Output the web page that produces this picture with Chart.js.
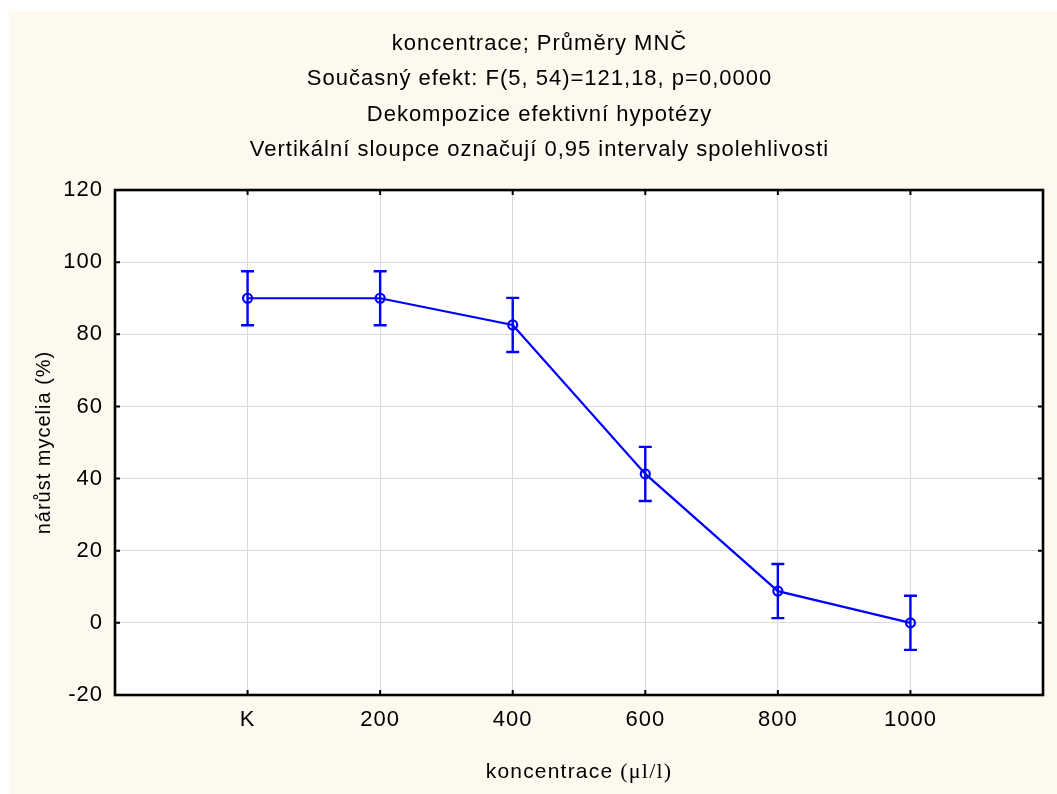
<!DOCTYPE html>
<html>
<head>
<meta charset="utf-8">
<script src="https://cdn.jsdelivr.net/npm/chart.js@4"></script>
<style>
  html, body { margin: 0; padding: 0; background: #fff; }
</style>
</head>
<body>
<canvas id="chart" width="1057" height="794"></canvas>
<script>
const categories = ['K', '200', '400', '600', '800', '1000'];
const means = [90.0, 90.0, 82.6, 41.3, 8.8, 0.0];
const ci95 = [7.5, 7.5, 7.5, 7.5, 7.5, 7.5]; // polovina 0,95 intervalu
const yTicks = [-20, 0, 20, 40, 60, 80, 100, 120];
const titleLines = [
  'koncentrace; Průměry MNČ',
  'Současný efekt: F(5, 54)=121,18, p=0,0000',
  'Dekompozice efektivní hypotézy',
  'Vertikální sloupce označují 0,95 intervaly spolehlivosti'
];
const yTitle = 'nárůst mycelia (%)';
const xTitle = ['koncentrace ', '(μl/l)'];

const sans = '"Liberation Sans", Arial, sans-serif';
const serif = '"Liberation Serif", "Times New Roman", serif';
const blue = '#0000ff';
const gridColor = '#dadada';

Chart.defaults.font.family = sans;
Chart.defaults.color = '#000';

const statPlot = {
  id: 'statPlot',
  beforeDraw(chart) {
    const { ctx, chartArea: a } = chart;
    ctx.letterSpacing = '1px';
    ctx.save();
    ctx.fillStyle = '#fff';
    ctx.fillRect(0, 0, chart.width, chart.height);
    ctx.fillStyle = '#fdf9ef';
    ctx.fillRect(9, 11, chart.width - 9, chart.height - 11);
    ctx.fillStyle = '#fff';
    ctx.fillRect(a.left, a.top, a.width, a.height);
    ctx.restore();
  },
  afterDatasetsDraw(chart) {
    // chybové úsečky (interval spolehlivosti)
    const { ctx, scales: { x, y } } = chart;
    ctx.save();
    ctx.strokeStyle = blue;
    ctx.lineWidth = 2.4;
    means.forEach((m, i) => {
      const px = x.getPixelForValue(i + 1);
      const hi = y.getPixelForValue(m + ci95[i]);
      const lo = y.getPixelForValue(m - ci95[i]);
      ctx.beginPath();
      ctx.moveTo(px, hi); ctx.lineTo(px, lo);
      ctx.moveTo(px - 6.5, hi); ctx.lineTo(px + 6.5, hi);
      ctx.moveTo(px - 6.5, lo); ctx.lineTo(px + 6.5, lo);
      ctx.stroke();
    });
    ctx.restore();
  },
  afterDraw(chart) {
    const { ctx, chartArea: a, scales: { x, y } } = chart;
    ctx.save();
    // rámeček a dovnitř orientované značky
    ctx.strokeStyle = '#000';
    ctx.lineWidth = 2.6;
    ctx.strokeRect(a.left, a.top, a.width, a.height);
    ctx.lineWidth = 2;
    ctx.beginPath();
    y.ticks.forEach(t => {
      const py = y.getPixelForValue(t.value);
      ctx.moveTo(a.left, py); ctx.lineTo(a.left + 5, py);
      ctx.moveTo(a.right, py); ctx.lineTo(a.right - 5, py);
    });
    x.ticks.forEach(t => {
      const px = x.getPixelForValue(t.value);
      ctx.moveTo(px, a.bottom); ctx.lineTo(px, a.bottom - 5);
      ctx.moveTo(px, a.top); ctx.lineTo(px, a.top + 5);
    });
    ctx.stroke();

    // popis osy x: jednotka je psána patkovým písmem
    ctx.fillStyle = '#000';
    ctx.textBaseline = 'alphabetic';
    ctx.textAlign = 'left';
    ctx.letterSpacing = '1.2px';
    ctx.font = '21px ' + sans;
    const w1 = ctx.measureText(xTitle[0]).width;
    ctx.font = '22px ' + serif;
    const w2 = ctx.measureText(xTitle[1]).width;
    const tx = (a.left + a.right) / 2 - (w1 + w2) / 2;
    ctx.font = '21px ' + sans;
    ctx.fillText(xTitle[0], tx, 778);
    ctx.font = '22px ' + serif;
    ctx.fillText(xTitle[1], tx + w1, 778);
    ctx.restore();
  }
};

new Chart(document.getElementById('chart'), {
  type: 'line',
  data: {
    datasets: [{
      data: means.map((m, i) => ({ x: i + 1, y: m })),
      borderColor: blue,
      borderWidth: 2.2,
      pointRadius: 4.5,
      pointBorderWidth: 2.2,
      pointBorderColor: blue,
      pointBackgroundColor: 'rgba(0,0,0,0)',
      tension: 0
    }]
  },
  options: {
    responsive: false,
    animation: false,
    layout: { padding: { left: 22, right: 0, top: 0, bottom: 0 } },
    plugins: {
      legend: { display: false },
      tooltip: { enabled: false },
      title: {
        display: true,
        text: titleLines,
        color: '#000',
        font: { size: 22, weight: 'normal', lineHeight: 1.605 },
        padding: { top: 26.2, bottom: 22.6 }
      }
    },
    scales: {
      x: {
        type: 'linear',
        min: 0,
        max: 7,
        afterBuildTicks: scale => { scale.ticks = categories.map((c, i) => ({ value: i + 1 })); },
        afterFit: scale => { scale.height = 99; },
        ticks: {
          callback: v => categories[v - 1],
          font: { size: 22 },
          color: '#000',
          padding: 12,
          autoSkip: false,
          maxRotation: 0
        },
        grid: { color: gridColor, drawTicks: false },
        border: { display: false }
      },
      y: {
        min: -20,
        max: 120,
        afterBuildTicks: scale => { scale.ticks = yTicks.map(v => ({ value: v })); },
        afterFit: scale => { scale.width = 93; },
        ticks: { font: { size: 22 }, color: '#000', padding: 12 },
        title: {
          display: true,
          text: yTitle,
          color: '#000',
          font: { size: 20 },
          padding: { top: 10, bottom: 0 }
        },
        grid: { color: gridColor, drawTicks: false },
        border: { display: false }
      },
      y2: {
        position: 'right',
        min: -20,
        max: 120,
        ticks: { display: false },
        grid: { display: false },
        border: { display: false },
        afterFit: scale => { scale.width = 14; }
      }
    }
  },
  plugins: [statPlot]
});
</script>
</body>
</html>
